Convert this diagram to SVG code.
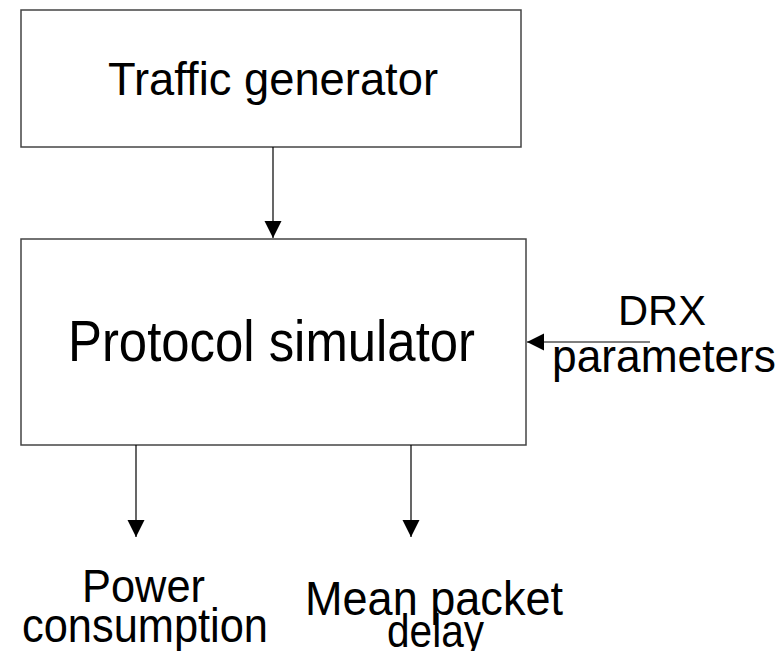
<svg xmlns="http://www.w3.org/2000/svg" width="780" height="651" viewBox="0 0 780 651">
  <style>
    .box { fill: #ffffff; stroke: #444444; stroke-width: 1.5; }
    .lbl { font-family: "Liberation Sans", Arial, sans-serif; fill: #000000; text-anchor: middle; }
    .wire { stroke: #000000; stroke-width: 1.2; fill: none; }
  </style>
  <defs>
    <marker id="head" markerWidth="18" markerHeight="18" refX="17" refY="8.5" orient="auto" markerUnits="userSpaceOnUse">
      <path d="M0,0 L17,8.5 L0,17 Z" fill="#000000"/>
    </marker>
  </defs>
  <rect width="780" height="651" fill="#ffffff"/>

  <g id="traffic-generator">
    <rect class="box" x="21" y="10" width="500" height="137"/>
    <text class="lbl" x="273" y="95" font-size="47" textLength="330" lengthAdjust="spacingAndGlyphs">Traffic generator</text>
  </g>

  <g id="protocol-simulator">
    <rect class="box" x="21" y="239" width="505" height="206"/>
    <text class="lbl" x="271.5" y="361" font-size="58" textLength="407" lengthAdjust="spacingAndGlyphs">Protocol simulator</text>
  </g>

  <g id="drx-parameters">
    <text class="lbl" x="662" y="325" font-size="42" textLength="88" lengthAdjust="spacingAndGlyphs">DRX</text>
    <text class="lbl" x="664" y="372" font-size="46" textLength="224" lengthAdjust="spacingAndGlyphs">parameters</text>
  </g>

  <g id="power-consumption">
    <text class="lbl" x="143.5" y="602" font-size="47" textLength="123" lengthAdjust="spacingAndGlyphs">Power</text>
    <text class="lbl" x="145" y="642" font-size="48" textLength="246" lengthAdjust="spacingAndGlyphs">consumption</text>
  </g>

  <g id="mean-packet-delay">
    <text class="lbl" x="434" y="615" font-size="48" textLength="258" lengthAdjust="spacingAndGlyphs">Mean packet</text>
    <text class="lbl" x="435.5" y="647" font-size="46" textLength="97" lengthAdjust="spacingAndGlyphs">delay</text>
  </g>

  <g id="connectors">
    <line class="wire" x1="273" y1="147" x2="273" y2="238" marker-end="url(#head)"/>
    <line class="wire" x1="650" y1="342" x2="527" y2="342" marker-end="url(#head)"/>
    <line class="wire" x1="136" y1="445" x2="136" y2="537" marker-end="url(#head)"/>
    <line class="wire" x1="411" y1="445" x2="411" y2="537" marker-end="url(#head)"/>
  </g>
</svg>
